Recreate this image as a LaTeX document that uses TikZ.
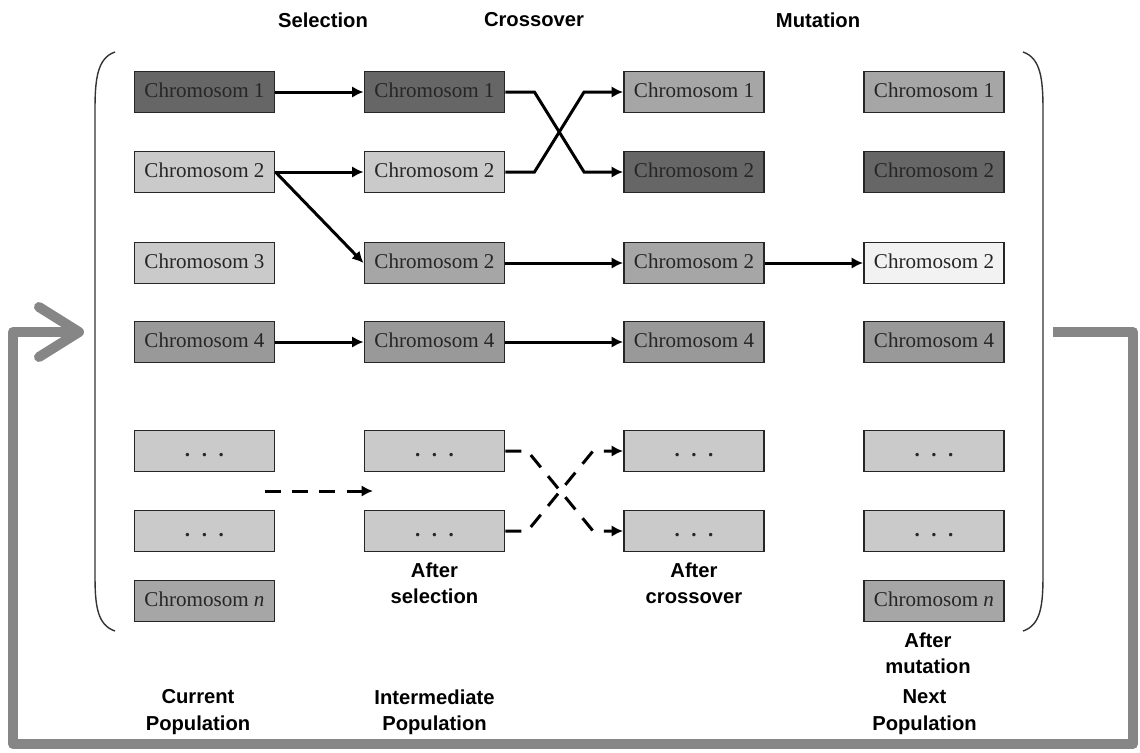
\documentclass[tikz,border=0pt]{standalone}
\usepackage{fontspec}
\setmainfont{Liberation Serif}
\newfontfamily\labelfont{Liberation Sans}
\usetikzlibrary{arrows.meta}
\usetikzlibrary{calc}
\definecolor{chromdark}{HTML}{666666}
\definecolor{chrommid}{HTML}{A6A6A6}
\definecolor{chromfour}{HTML}{999999}
\definecolor{chromlight}{HTML}{CACACA}
\definecolor{chromwhite}{HTML}{F2F2F2}
\definecolor{loopgray}{HTML}{868686}
\newcommand{\dotsrow}{\textbf{.\hspace{0.55em}.\hspace{0.55em}.}}

\begin{document}
\begin{tikzpicture}[x=0.02cm, y=-0.02cm,
			chrom/.style  = {draw=black!85, line width=1.1pt, rectangle, minimum width=2.8cm, minimum height=0.82cm, inner sep=0pt, text=black!85, font=\fontsize{12}{14}\selectfont, text height=0.74em, text depth=0.12em},
			dark/.style   = {fill=chromdark},
			mid/.style    = {fill=chrommid},
			four/.style   = {fill=chromfour},
			light/.style  = {fill=chromlight},
			white/.style  = {fill=chromwhite},
			conn/.style   = {black, line width=1.7pt, -{Latex[length=6.5pt,width=6.5pt]}},
			dconn/.style  = {conn, dash pattern=on 9pt off 6.5pt},
			title/.style  = {font=\labelfont\bfseries\fontsize{11.5}{15}\selectfont, align=center},
			feedback/.style = {loopgray, line width=0.2cm, line join=round, -{Straight Barb[length=0.8cm, width=1.0cm, line cap=round, line join=round]}},]

			\useasboundingbox (0,0) rectangle (1140,752);

			%% HEADINGS
			\node[title] (selection) at (323,20) {Selection};
			\node[title] (crossover) at (534,20) {Crossover};
			\node[title] (mutation) at (818,20) {Mutation};

			%% BRACKETS
			\draw[black!80, line width=0.8pt] (115,52) .. controls (97,58) and (95,80) .. (95,110) -- (95,575) .. controls (95,605) and (97,625) .. (115,631);
			\draw[black!80, line width=0.8pt] (1023,52) .. controls (1041,58) and (1043,80) .. (1043,110) -- (1043,575) .. controls (1043,605) and (1041,625) .. (1023,631);

			%% CURRENT POPULATION
			\node[chrom, dark]  (cur1) at (204.5,92)  {Chromosom 1};
			\node[chrom, light] (cur2) at (204.5,172) {Chromosom 2};
			\node[chrom, light] (cur3) at (204.5,263) {Chromosom 3};
			\node[chrom, four]  (cur4) at (204.5,342) {Chromosom 4};
			\node[chrom, light] (cur5) at (204.5,451) {\dotsrow};
			\node[chrom, light] (cur6) at (204.5,531) {\dotsrow};
			\node[chrom, mid]   (curn) at (204.5,601) {Chromosom \textit{n}};

			%% INTERMEDIATE POPULATION
			\node[chrom, dark]  (mid1) at (434.5,92)  {Chromosom 1};
			\node[chrom, light] (mid2) at (434.5,172) {Chromosom 2};
			\node[chrom, mid]   (mid3) at (434.5,263) {Chromosom 2};
			\node[chrom, four]  (mid4) at (434.5,342) {Chromosom 4};
			\node[chrom, light] (mid5) at (434.5,451) {\dotsrow};
			\node[chrom, light] (mid6) at (434.5,531) {\dotsrow};

			%% AFTER CROSSOVER
			\node[chrom, mid]   (crs1) at (694,92)  {Chromosom 1};
			\node[chrom, dark]  (crs2) at (694,172) {Chromosom 2};
			\node[chrom, mid]   (crs3) at (694,263) {Chromosom 2};
			\node[chrom, four]  (crs4) at (694,342) {Chromosom 4};
			\node[chrom, light] (crs5) at (694,451) {\dotsrow};
			\node[chrom, light] (crs6) at (694,531) {\dotsrow};

			%% NEXT POPULATION
			\node[chrom, mid]   (nxt1) at (934,92)  {Chromosom 1};
			\node[chrom, dark]  (nxt2) at (934,172) {Chromosom 2};
			\node[chrom, white] (nxt3) at (934,263) {Chromosom 2};
			\node[chrom, four]  (nxt4) at (934,342) {Chromosom 4};
			\node[chrom, light] (nxt5) at (934,451) {\dotsrow};
			\node[chrom, light] (nxt6) at (934,531) {\dotsrow};
			\node[chrom, mid]   (nxtn) at (934,601) {Chromosom \textit{n}};

			%% SELECTION
			\draw[conn] (cur1) -- (mid1);
			\draw[conn] (cur2) -- (mid2);
			\draw[conn] (cur2.east) -- (mid3.west);
			\draw[conn] (cur4) -- (mid4);
			\coordinate (selfrom) at (265,491);
			\coordinate (selto) at (373,491);
			\draw[dconn] (selfrom) -- (selto);

			%% CROSSOVER
			\draw[conn] (mid1.east) -- ++(29,0) -- ($(crs2.west)+(-39,0)$) -- (crs2.west);
			\draw[conn] (mid2.east) -- ++(29,0) -- ($(crs1.west)+(-39,0)$) -- (crs1.west);
			\draw[conn] (mid3) -- (crs3);
			\draw[conn] (mid4) -- (crs4);
			\draw[dconn] (mid5.east) -- ++(22,0) -- ($(crs6.west)+(-30,0)$) -- (crs6.west);
			\draw[dconn] (mid6.east) -- ++(22,0) -- ($(crs5.west)+(-30,0)$) -- (crs5.west);

			%% MUTATION
			\draw[conn] (crs3) -- (nxt3);

			%% CAPTIONS
			\node[title] (aftersel) at (434.5,583) {After\\selection};
			\node[title] (aftercrs) at (694,583) {After\\crossover};
			\node[title] (aftermut) at (928,653) {After\\mutation};
			\node[title] (curpop) at (198,712) {Current\\Population};
			\node[title] (midpop) at (434.5,712) {Intermediate\\Population};
			\node[title] (nxtpop) at (924.5,712) {Next\\Population};

			%% BACK TO THE START
			\coordinate (fbout) at (1053,332);
			\coordinate (fbin) at (84,332);
			\draw[feedback] (fbout) -| (1133,744) -| (13,332) -- (fbin);
\end{tikzpicture}
\end{document}
